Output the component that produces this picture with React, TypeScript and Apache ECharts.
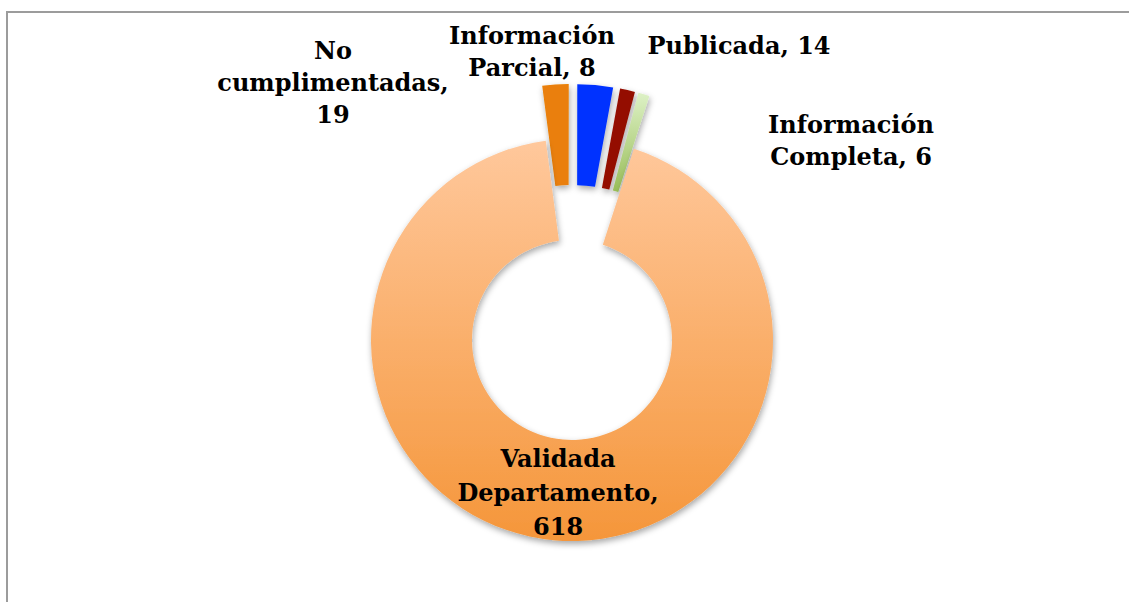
import React, { useEffect, useRef } from "react";
import * as echarts from "echarts";

// Slices in clockwise order, starting just left of 12 o'clock
const categories = [
  "Publicada",
  "No cumplimentadas",
  "Información Parcial",
  "Información Completa",
  "Validada Departamento",
];
const values = [14, 19, 8, 6, 618];
const exploded = [true, true, true, true, false];

const sliceColors: any[] = [
  "#EA7F07",
  "#0533FF",
  "#941100",
  new echarts.graphic.LinearGradient(0, 0, 0, 1, [
    { offset: 0, color: "#DDF1C6" },
    { offset: 1, color: "#98BD57" },
  ]),
  new echarts.graphic.LinearGradient(0, 0, 0, 1, [
    { offset: 0, color: "#FFC89C" },
    { offset: 1, color: "#F5963A" },
  ]),
];

// label text layout: break name into words, value on its own line or not
const nameBreak = [false, true, true, true, true];
const valueBreak = [false, true, false, false, true];
const labelXY: ([number, number] | null)[] = [
  [739, 45],
  [333, 82],
  [532, 51],
  [851, 140],
  null,
];

function labelText(i: number, name: string, value: number) {
  const words = nameBreak[i] ? name.split(" ").join("\n") : name;
  return valueBreak[i] ? `${words},\n${value}` : `${words}, ${value}`;
}

const labelFont = {
  fill: "#000000",
  fontFamily: "DejaVu Serif",
  fontWeight: "bold",
  fontSize: 24,
  lineHeight: 32,
  align: "center",
  verticalAlign: "middle",
};

export default function App() {
  const ref = useRef<HTMLDivElement>(null);
  useEffect(() => {
    if (!ref.current) return;
    const chart = echarts.init(ref.current, null, { renderer: "svg" });
    const data = categories.map((name, i) => ({
      name,
      value: values[i],
      selected: exploded[i],
      itemStyle: { color: sliceColors[i] },
      select: { itemStyle: { color: sliceColors[i] } },
      label:
        labelXY[i] === null
          ? { show: true, position: "inside", lineHeight: 34, padding: [0, 0, 6, 0] }
          : { show: false },
    }));
    const textLabels = categories
      .map((name, i) => {
        const xy = labelXY[i];
        if (!xy) return null;
        return {
          type: "text",
          x: xy[0],
          y: xy[1],
          z: 10,
          style: { ...labelFont, text: labelText(i, name, values[i]) },
        };
      })
      .filter(Boolean);
    chart.setOption({
      animation: false,
      backgroundColor: "#ffffff",
      graphic: [
        {
          type: "rect",
          z: -10,
          shape: { x: 7, y: 12, width: 1300, height: 800 },
          style: { fill: "none", stroke: "#9c9c9c", lineWidth: 2 },
        },
        ...textLabels,
      ],
      series: [
        {
          type: "pie",
          center: [572, 340],
          radius: [100, 201],
          startAngle: 97.5,
          clockwise: true,
          selectedMode: "multiple",
          selectedOffset: 55,
          avoidLabelOverlap: false,
          itemStyle: {
            borderWidth: 0,
            shadowBlur: 6,
            shadowOffsetX: 1,
            shadowOffsetY: 3,
            shadowColor: "rgba(0,0,0,0.35)",
          },
          label: {
            color: "#000000",
            fontFamily: "DejaVu Serif",
            fontWeight: "bold",
            fontSize: 24,
            align: "center",
            formatter: (p: any) => labelText(p.dataIndex, p.name, p.value),
          },
          labelLine: { show: false },
          emphasis: { disabled: true },
          data,
        },
      ],
    });
    return () => chart.dispose();
  }, []);
  return (
    <div
      ref={ref}
      style={{ position: "fixed", left: 0, top: 0, width: 1129, height: 602 }}
    />
  );
}
